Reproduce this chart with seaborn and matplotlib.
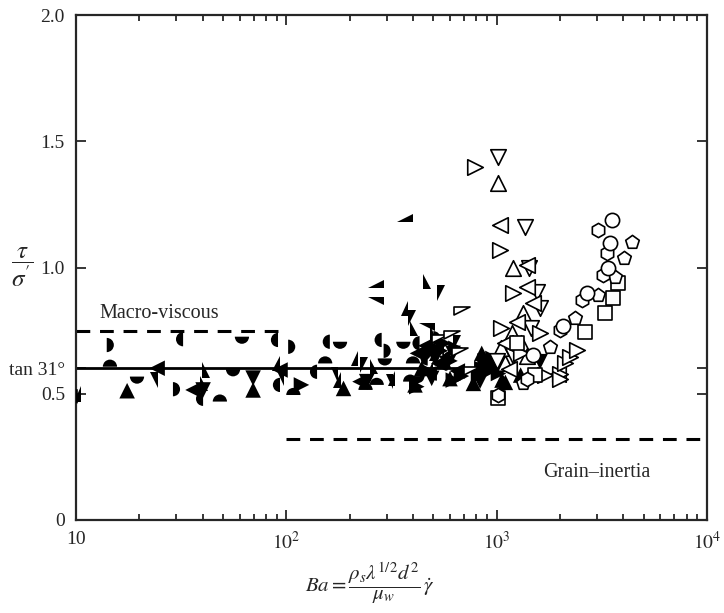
import numpy as np
import pandas as pd
import matplotlib
matplotlib.use("Agg")
import matplotlib.pyplot as plt
from matplotlib.markers import MarkerStyle
import seaborn as sns

# ---------------- data (Ba, tau/sigma') ----------------
# filled half circles
hc_left_x = [10.2, 32.3, 40.2, 91.3, 93.3, 140, 161, 284, 430, 470, 520, 600]
hc_left_y = [0.49, 0.716, 0.48, 0.713, 0.535, 0.587, 0.706, 0.713, 0.70, 0.64, 0.58, 0.64]
hc_right_x = [14.0, 28.9, 102, 290, 450, 500]
hc_right_y = [0.693, 0.518, 0.686, 0.67, 0.66, 0.72]
hc_top_x = [14.5, 48.3, 108, 153, 238, 269, 388, 400, 560]
hc_top_y = [0.607, 0.469, 0.495, 0.62, 0.515, 0.535, 0.548, 0.62, 0.60]
hc_bottom_x = [19.5, 55.8, 61.5, 180, 294, 360, 480, 420]
hc_bottom_y = [0.568, 0.597, 0.726, 0.706, 0.64, 0.706, 0.69, 0.57]

# filled triangles
tri_up_x = [17.5, 69.5, 187, 409, 440, 600, 775, 849, 1060, 1100, 1300]
tri_up_y = [0.512, 0.515, 0.521, 0.535, 0.60, 0.56, 0.541, 0.66, 0.554, 0.545, 0.574]
tri_down_x = [40.2, 69.5, 241, 491, 510, 580, 620, 834, 1608]
tri_down_y = [0.515, 0.562, 0.548, 0.561, 0.64, 0.62, 0.66, 0.55, 0.627]
tri_left_x = [24.3, 36.0, 93.3, 224, 420, 460, 530, 650]
tri_left_y = [0.601, 0.515, 0.594, 0.548, 0.66, 0.69, 0.62, 0.59]
tri_right_x = [118, 417, 470, 540, 560, 600, 622, 640, 680, 820, 850, 880, 900, 950, 960, 1000, 1020, 898]
tri_right_y = [0.535, 0.528, 0.59, 0.67, 0.70, 0.63, 0.554, 0.68, 0.57, 0.57, 0.60, 0.63, 0.585, 0.60, 0.64, 0.61, 0.58, 0.62]

# filled half triangles (right-angled pieces)
ht_a_x = [10.6, 93.3, 182, 220, 330, 380, 500, 520]      # lower-right piece
ht_a_y = [0.50, 0.62, 0.554, 0.64, 0.56, 0.838, 0.60, 0.66]
ht_b_x = [38.9, 39.7, 250, 388, 448, 480]                # lower-left piece
ht_b_y = [0.54, 0.594, 0.607, 0.759, 0.944, 0.74]
ht_c_x = [224, 380, 519, 620]                            # upper-right piece
ht_c_y = [0.614, 0.799, 0.898, 0.70]
ht_d_x = [24.6, 98, 177, 323, 560]                       # upper-left piece
ht_d_y = [0.554, 0.56, 0.574, 0.548, 0.68]
ht_lt_x = [267, 366]
ht_lt_y = [0.918, 1.181]
ht_lb_x = [267, 466]
ht_lb_y = [0.883, 0.779]

# open half triangles
oh_x = [538, 611, 669, 682, 762]
oh_y = [0.733, 0.749, 0.68, 0.845, 0.607]

# open triangles
open_up_x = [1019, 1200, 1340, 1181, 1300, 1100, 1400, 1050]
open_up_y = [1.333, 0.997, 0.818, 0.739, 0.70, 0.62, 0.65, 0.68]
open_down_x = [1019, 1366, 1420, 1550, 1608, 1450, 1200, 1000]
open_down_y = [1.439, 1.162, 1.0, 0.904, 0.838, 0.76, 0.65, 0.63]
open_left_x = [1038, 1390, 1495, 1390, 1250, 1100, 1950, 1150]
open_left_y = [1.168, 1.01, 0.858, 0.924, 0.786, 0.70, 0.58, 0.60]
open_right_x = [789, 1038, 1200, 1608, 1700, 2000, 2114, 2233, 2400, 2002, 1050, 1300]
open_right_y = [1.399, 1.069, 0.898, 0.739, 0.574, 0.58, 0.62, 0.647, 0.673, 0.56, 0.76, 0.66]

# open polygons / circles
square_x = [1019, 1523, 1250, 2632, 3276, 3590, 3794]
square_y = [0.483, 0.574, 0.70, 0.746, 0.818, 0.878, 0.937]
pent_x = [1340, 1795, 2359, 3047, 3654, 4009, 4385]
pent_y = [0.541, 0.686, 0.799, 0.891, 0.964, 1.036, 1.102]
hex_x = [1019, 2002, 2535, 3218, 3335, 3047, 1400]
hex_y = [0.495, 0.752, 0.871, 0.97, 1.056, 1.149, 0.56]
circ_x = [1495, 2074, 2680, 3395, 3460, 3524]
circ_y = [0.653, 0.770, 0.898, 0.997, 1.096, 1.188]

# regime lines
tan31 = np.tan(np.radians(31))
solid_x = [10, 1000]
macro_x, macro_y = [10, 100], 0.75
grain_x, grain_y = [100, 10000], 0.32

xticks = [10, 100, 1000, 10000]
xticklabels = ["10", r"$10^2$", r"$10^3$", r"$10^4$"]
yticks = [0, 0.5, tan31, 1.0, 1.5, 2.0]
yticklabels = ["0", "0.5", "tan 31°", "1.0", "1.5", "2.0"]

# ---------------- style ----------------
sns.set_style("ticks")
plt.rcParams["font.family"] = ["Liberation Serif", "DejaVu Serif"]
plt.rcParams["mathtext.fontset"] = "stix"

fig = plt.figure(figsize=(7.24, 6.13), dpi=100)
ax = fig.add_axes([76 / 724, 1 - 520 / 613, 631 / 724, 505 / 613])

series = [
    ("hc_left", hc_left_x, hc_left_y, MarkerStyle("o", fillstyle="left"), "filled"),
    ("hc_right", hc_right_x, hc_right_y, MarkerStyle("o", fillstyle="right"), "filled"),
    ("hc_top", hc_top_x, hc_top_y, MarkerStyle("o", fillstyle="top"), "filled"),
    ("hc_bottom", hc_bottom_x, hc_bottom_y, MarkerStyle("o", fillstyle="bottom"), "filled"),
    ("tri_up", tri_up_x, tri_up_y, MarkerStyle("^"), "filled"),
    ("tri_down", tri_down_x, tri_down_y, MarkerStyle("v"), "filled"),
    ("tri_left", tri_left_x, tri_left_y, MarkerStyle("<"), "filled"),
    ("tri_right", tri_right_x, tri_right_y, MarkerStyle(">"), "filled"),
    ("ht_a", ht_a_x, ht_a_y, MarkerStyle("^", fillstyle="left"), "filled"),
    ("ht_b", ht_b_x, ht_b_y, MarkerStyle("^", fillstyle="right"), "filled"),
    ("ht_c", ht_c_x, ht_c_y, MarkerStyle("v", fillstyle="right"), "filled"),
    ("ht_d", ht_d_x, ht_d_y, MarkerStyle("v", fillstyle="left"), "filled"),
    ("ht_lt", ht_lt_x, ht_lt_y, MarkerStyle("<", fillstyle="top"), "filled"),
    ("ht_lb", ht_lb_x, ht_lb_y, MarkerStyle("<", fillstyle="bottom"), "filled"),
    ("oh", oh_x, oh_y, MarkerStyle(">", fillstyle="bottom"), "open"),
    ("open_up", open_up_x, open_up_y, MarkerStyle("^"), "open"),
    ("open_down", open_down_x, open_down_y, MarkerStyle("v"), "open"),
    ("open_left", open_left_x, open_left_y, MarkerStyle("<"), "open"),
    ("open_right", open_right_x, open_right_y, MarkerStyle(">"), "open"),
    ("square", square_x, square_y, MarkerStyle("s"), "open"),
    ("pent", pent_x, pent_y, MarkerStyle("p"), "open"),
    ("hex", hex_x, hex_y, MarkerStyle("h"), "open"),
    ("circ", circ_x, circ_y, MarkerStyle("o"), "open"),
]

# reference lines
ax.hlines(tan31, solid_x[0], solid_x[1], color="black", lw=2.0, zorder=1)
ax.hlines(macro_y, macro_x[0], macro_x[1], color="black", lw=2.2,
          linestyles=(0, (4.5, 3.2)), zorder=1)
ax.hlines(grain_y, grain_x[0], grain_x[1], color="black", lw=2.2,
          linestyles=(0, (4.5, 3.2)), zorder=1)

for name, xs, ys, mk, kind in series:
    df = pd.DataFrame({"Ba": xs, "ratio": ys})
    size = 125 if mk.get_marker() in ("^", "v", "<", ">") else 105
    if kind == "filled":
        sns.scatterplot(data=df, x="Ba", y="ratio", marker=mk, s=size,
                        color="black", edgecolor="none", linewidth=0,
                        ax=ax, legend=False, zorder=3)
    else:
        sns.scatterplot(data=df, x="Ba", y="ratio", marker=mk, s=size,
                        facecolor="white", edgecolor="black", linewidth=1.2,
                        ax=ax, legend=False, zorder=4)

ax.set_xscale("log")
ax.set_xlim(10, 10000)
ax.set_ylim(0, 2.0)
ax.set_xticks(xticks)
ax.set_xticklabels(xticklabels)
ax.set_yticks(yticks)
ax.set_yticklabels(yticklabels)

ax.tick_params(which="both", direction="in", top=True, right=True,
               labelsize=14, width=1.3, pad=8)
ax.tick_params(which="major", length=7)
ax.tick_params(which="minor", length=4)
for sp in ax.spines.values():
    sp.set_linewidth(1.6)

ax.set_xlabel(r"$Ba = \dfrac{\rho_s\lambda^{1/2}d^2}{\mu_w}\,\dot{\gamma}$", fontsize=15)
ax.xaxis.label.set_va("center")
ax.xaxis.set_label_coords(0.466, -0.125)
ax.set_ylabel(r"$\dfrac{\tau}{\sigma^{\prime}}$", fontsize=18, rotation=0)
ax.yaxis.label.set_va("center")
ax.yaxis.set_label_coords(-0.086, 0.5)

ax.text(12.9, 0.80, "Macro-viscous", fontsize=14.5, ha="left", va="baseline")
ax.text(1663, 0.172, "Grain\u2013inertia", fontsize=14.5, ha="left", va="baseline")

fig.savefig("out.png", dpi=100)
